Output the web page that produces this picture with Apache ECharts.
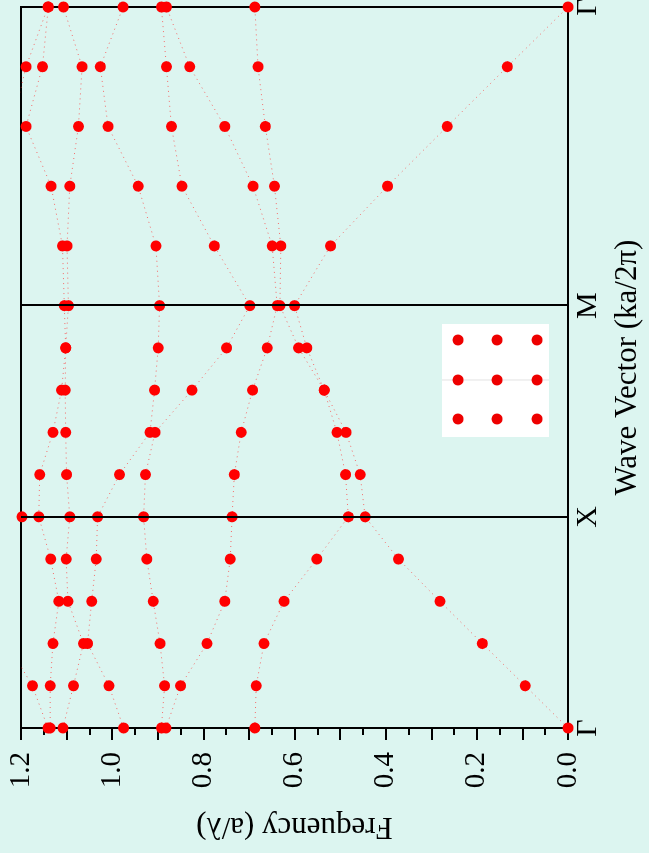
<!DOCTYPE html>
<html>
<head>
<meta charset="utf-8">
<script src="https://cdn.jsdelivr.net/npm/echarts@6/dist/echarts.min.js"></script>
<style>
  html, body { margin: 0; padding: 0; width: 649px; height: 853px; overflow: hidden; background: #dcf5f0; }
  /* chart is drawn upright (853x649) and turned a quarter left */
  #chart { position: absolute; left: -102px; top: 102px; width: 853px; height: 649px; transform: rotate(-90deg); }
</style>
</head>
<body>
<div id="chart"></div>
<script>
// k path positions: G -> X -> M -> G (M-G leg is sqrt(2) long)
const kPos = [0, 0.2, 0.4, 0.6, 0.8, 1.0, 1.2, 1.4, 1.6, 1.8, 2.0, 2.2828, 2.5657, 2.8485, 3.1314, 3.4142]
const kTickVals = [0, 1, 2, 3.4142]
const kTickNames = ['Γ', 'X', 'M', 'Γ']
const freqTicks = [0, 0.2, 0.4, 0.6, 0.8, 1.0, 1.2]

// bands (values above 1.2 run off the frame)
const band1 = [0, 0.094, 0.188, 0.281, 0.372, 0.445, 0.456, 0.487, 0.535, 0.573, 0.600, 0.521, 0.396, 0.265, 0.133, 0]
const band2 = [0.687, 0.684, 0.667, 0.623, 0.551, 0.482, 0.488, 0.507, 0.535, 0.591, 0.632, 0.630, 0.644, 0.664, 0.680, 0.687]
const band3 = [0.882, 0.850, 0.792, 0.753, 0.741, 0.737, 0.732, 0.717, 0.692, 0.660, 0.638, 0.649, 0.691, 0.753, 0.830, 0.881]
const band4 = [0.892, 0.885, 0.895, 0.910, 0.924, 0.931, 0.927, 0.906, 0.825, 0.749, 0.698, 0.776, 0.847, 0.870, 0.881, 0.892]
const band5 = [0.975, 1.007, 1.054, 1.045, 1.035, 1.032, 0.984, 0.917, 0.907, 0.899, 0.896, 0.904, 0.943, 1.009, 1.026, 0.976]
const band6 = [1.108, 1.085, 1.063, 1.097, 1.101, 1.093, 1.100, 1.102, 1.103, 1.102, 1.096, 1.099, 1.093, 1.074, 1.066, 1.107]
const band7 = [1.136, 1.136, 1.130, 1.117, 1.135, 1.161, 1.159, 1.130, 1.111, 1.102, 1.105, 1.109, 1.134, 1.189, 1.153, 1.140]
const band8 = [1.141, 1.175, 1.23, 1.26, 1.24, 1.198, 1.23, 1.27, 1.29, 1.30, 1.30, 1.29, 1.26, 1.22, 1.189, 1.141]
const bands = [band1, band2, band3, band4, band5, band6, band7, band8]

const serif = 'Liberation Serif'
const red = '#ff0000'

let series = bands.map((b, i) => ({
  name: 'band' + (i + 1),
  type: 'line',
  clip: true,
  symbol: 'circle',
  symbolSize: 11,
  itemStyle: { color: red },
  lineStyle: { color: '#ff3030', width: 1, type: [1, 4], opacity: 0.7 },
  data: b.map((f, j) => [kPos[j], f])
}))

// high-symmetry verticals
series.push({
  type: 'line',
  data: [],
  z: 5,
  markLine: {
    silent: true,
    symbol: 'none',
    label: { show: false },
    lineStyle: { color: '#000', width: 2, type: 'solid' },
    data: [{ xAxis: kTickVals[1] }, { xAxis: kTickVals[2] }]
  }
})

// lattice inset (3x3)
let inset = [{ type: 'rect', shape: { x: 416, y: 442, width: 113, height: 107 }, style: { fill: '#fff' } },
  { type: 'line', shape: { x1: 473, y1: 442, x2: 473, y2: 549 }, style: { stroke: '#e2e2e2', lineWidth: 1 } }]
;[434, 473, 513].forEach(cx => {
  ;[458, 497, 537].forEach(cy => {
    inset.push({ type: 'circle', shape: { cx: cx, cy: cy, r: 5.5 }, style: { fill: '#ee0000' } })
  })
})

const option = {
  animation: false,
  backgroundColor: '#dcf5f0',
  textStyle: { fontFamily: serif },
  grid: {
    show: true, left: 125, right: 7, top: 21, bottom: 81,
    outerBoundsMode: 'none',
    containLabel: false,
    borderColor: '#000', borderWidth: 2
  },
  xAxis: {
    type: 'value',
    min: 0,
    max: kTickVals[3],
    name: 'Wave Vector (ka/2π)',
    nameLocation: 'middle',
    nameGap: 44,
    nameTextStyle: { fontFamily: serif, fontSize: 31, color: '#000' },
    axisLine: { show: true, lineStyle: { color: '#000', width: 2 } },
    axisTick: { show: false },
    splitLine: { show: false },
    axisLabel: {
      customValues: kTickVals,
      showMinLabel: true,
      showMaxLabel: true,
      margin: 5,
      fontFamily: serif,
      fontSize: 30,
      color: '#000',
      formatter: v => {
        let best = 0
        kTickVals.forEach((t, i) => { if (Math.abs(t - v) < Math.abs(kTickVals[best] - v)) best = i })
        return kTickNames[best]
      }
    }
  },
  yAxis: {
    type: 'value',
    min: 0,
    max: 1.2,
    interval: 0.1,
    name: 'Frequency (a/λ)',
    nameLocation: 'middle',
    nameGap: 83,
    nameTextStyle: { fontFamily: serif, fontSize: 31, color: '#000' },
    axisLine: { show: true, lineStyle: { color: '#000', width: 2 } },
    axisTick: { show: true, length: 12, lineStyle: { color: '#000', width: 2 } },
    minorTick: { show: true, splitNumber: 2, length: 7, lineStyle: { color: '#000', width: 2 } },
    splitLine: { show: false },
    axisLabel: {
      margin: 24,
      fontFamily: serif,
      fontSize: 29,
      color: '#000',
      formatter: v => freqTicks.some(t => Math.abs(t - v) < 1e-6) ? v.toFixed(1) : ''
    }
  },
  graphic: inset,
  series: series
}

let chart = echarts.init(document.getElementById('chart'), null, { renderer: 'canvas' })
chart.setOption(option)
</script>
</body>
</html>
